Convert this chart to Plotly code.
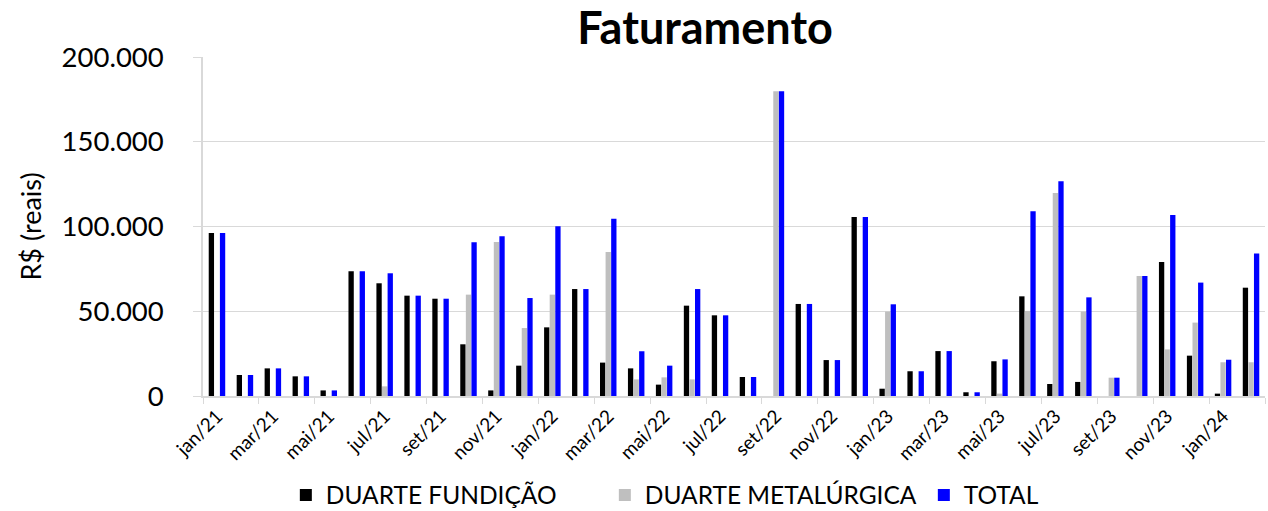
import plotly.graph_objects as go

meses = ["jan", "fev", "mar", "abr", "mai", "jun", "jul", "ago", "set", "out", "nov", "dez"]
categorias = [f"{m}/{a}" for a in ("21", "22", "23") for m in meses] + ["jan/24", "fev/24"]

duarte_fundicao = [
    96200, 12400, 16300, 11600, 3300, 73600, 66500, 59200, 57400, 30500, 3300, 17900,
    40500, 63100, 19700, 16300, 6700, 53300, 47600, 11200, 0, 54300, 21200, 105600,
    4300, 14600, 26500, 2200, 20500, 58800, 7100, 8300, 0, 0, 79100, 23800,
    1400, 63900,
]
duarte_metalurgica = [
    0, 0, 0, 0, 0, 0, 5700, 0, 0, 59800, 90900, 40100,
    59800, 0, 85000, 9800, 11000, 9800, 0, 0, 179800, 0, 0, 0,
    49800, 0, 0, 0, 1400, 50200, 119800, 49800, 10800, 70800, 27500, 43300,
    19900, 19900,
]
total = [
    96200, 12400, 16300, 11600, 3300, 73600, 72400, 59200, 57400, 90700, 94200, 57800,
    100100, 63100, 104600, 26400, 17900, 63100, 47600, 11200, 179800, 54300, 21200, 105600,
    54100, 14600, 26500, 2200, 21600, 109000, 126700, 58200, 10800, 70800, 106800, 66900,
    21400, 84000,
]

series_names = ["DUARTE FUNDIÇÃO", "DUARTE METALÚRGICA", "TOTAL"]
series_colors = ["#000000", "#BFBFBF", "#0000FF"]

FONT = "Lato"

fig = go.Figure()
for name, vals, col in zip(series_names, [duarte_fundicao, duarte_metalurgica, total], series_colors):
    fig.add_trace(go.Bar(x=categorias, y=vals, name=name, marker_color=col, marker_line_width=0))

fig.update_layout(
    width=1268, height=511,
    margin=dict(l=203, r=3, t=57, b=115, autoexpand=False),
    paper_bgcolor="white", plot_bgcolor="white",
    separators=",.",
    font=dict(family=FONT, color="#000000"),
    barmode="group", bargap=0.4, bargroupgap=0.05,
    title=dict(text="<b>Faturamento</b>", font=dict(family=FONT, size=45, color="#000000"),
               xref="paper", x=0.4727, xanchor="center",
               yref="container", y=1 - 28 / 511, yanchor="middle"),
    legend=dict(orientation="h", xref="paper", x=0.078, xanchor="left",
                yref="container", y=1 - 495 / 511, yanchor="middle",
                font=dict(family=FONT, size=24.5, color="#000000"),
                entrywidth=274, entrywidthmode="pixels",
                itemsizing="constant"),
    showlegend=True,
)

fig.update_xaxes(
    type="category", tickangle=-45, dtick=2, tickson="boundaries",
    range=[-0.5, len(categorias) - 0.5],
    ticks="outside", ticklen=6, tickcolor="#D9D9D9",
    showline=True, linecolor="#D9D9D9", linewidth=1.5,
    showgrid=False, automargin=False,
    tickfont=dict(family=FONT, size=19, color="#000000"),
)
fig.update_yaxes(
    range=[0, 200000], dtick=50000, tickformat=",.0f",
    showgrid=True, gridcolor="#D9D9D9", gridwidth=1.3,
    showline=True, linecolor="#D9D9D9", linewidth=1.5,
    ticks="outside", ticklen=8, tickcolor="#D9D9D9",
    ticklabelstandoff=24, automargin=False,
    tickfont=dict(family=FONT, size=27.5, color="#000000"),
    title=dict(text="R$ (reais)", font=dict(family=FONT, size=27, color="#000000"), standoff=12),
    zeroline=False,
)

fig.write_html("out.html", config={"displayModeBar": False},
               post_script="document.body.style.margin='0';document.body.style.overflow='hidden';")
